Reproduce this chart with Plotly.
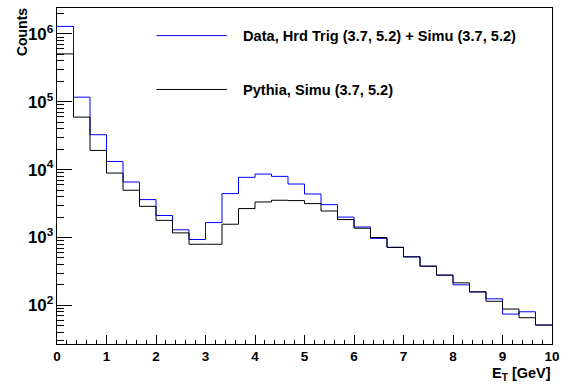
import numpy as np
import plotly.graph_objects as go

# Bin edges: 30 bins from 0 to 10 GeV
n_bins = 30
x_min, x_max = 0.0, 10.0

data_counts = [1.29e6, 1.17e5, 3.27e4, 1.32e4, 6.58e3, 3.62e3, 2.11e3, 1.30e3, 935, 1.66e3,
               4.44e3, 7.71e3, 8.61e3, 7.96e3, 6.14e3, 4.38e3, 3.05e3, 2.00e3, 1.43e3, 971,
               719, 519, 378, 279, 201, 158, 125, 74.5, 80.5, 51.3]
pythia_counts = [5.08e5, 5.94e4, 1.92e4, 8.91e3, 4.97e3, 2.88e3, 1.79e3, 1.17e3, 796, 796,
                 1.57e3, 2.67e3, 3.34e3, 3.54e3, 3.50e3, 3.16e3, 2.46e3, 1.84e3, 1.37e3, 1.00e3,
                 713, 519, 378, 279, 215, 158, 115, 88.3, 65.8, 51.3]

legend_labels = ["Data, Hrd Trig (3.7, 5.2) + Simu (3.7, 5.2)", "Pythia, Simu (3.7, 5.2)"]
colors = ["#0000ff", "#000000"]

edges = np.linspace(x_min, x_max, n_bins + 1)

def step_xy(vals):
    xs = list(edges)
    ys = list(vals) + [vals[-1]]
    return xs, ys

fig = go.Figure()
for vals, col, name in [(data_counts, colors[0], legend_labels[0]),
                        (pythia_counts, colors[1], legend_labels[1])]:
    xs, ys = step_xy(vals)
    fig.add_trace(go.Scatter(x=xs, y=ys, mode="lines", line=dict(shape="hv", color=col, width=1),
                             name=name, showlegend=False))

FONT = "Liberation Sans, Arial, sans-serif"
L, R, T, B = 57, 11, 7, 40
W, H = 567, 384
pw, ph = W - L - R, H - T - B

def px2x(p):
    return (p - L) / pw

def px2y(p):
    return (H - B - p) / ph

shapes = []
annotations = []
for (yy, col, name) in [(34.7, colors[0], legend_labels[0]), (88.7, colors[1], legend_labels[1])]:
    shapes.append(dict(type="line", xref="paper", yref="paper", x0=px2x(157.3), x1=px2x(228.3),
                       y0=px2y(yy), y1=px2y(yy), line=dict(color=col, width=1)))
    annotations.append(dict(text=name, xref="paper", yref="paper", x=px2x(242.5), y=px2y(yy + 0.5),
                            xanchor="left", yanchor="middle", showarrow=False,
                            font=dict(family=FONT, size=14.6, color="black", weight="bold")))

annotations.append(dict(text="Counts", xref="paper", yref="paper", x=px2x(21.3), y=px2y(5.5),
                        xanchor="center", yanchor="top", textangle=-90, showarrow=False,
                        font=dict(family=FONT, size=14, color="black", weight="bold")))
annotations.append(dict(text="<b>E<sub>T</sub> [GeV]</b>", xref="paper", yref="paper", x=px2x(557), y=px2y(374),
                        xanchor="right", yanchor="middle", showarrow=False,
                        font=dict(family=FONT, size=14.5, color="black", weight="bold")))

fig.update_layout(
    width=W, height=H,
    margin=dict(l=L, r=R, t=T, b=B, pad=0),
    paper_bgcolor="white", plot_bgcolor="white",
    font=dict(family=FONT, color="black", weight="bold"),
    shapes=shapes, annotations=annotations,
    showlegend=False,
)
fig.update_xaxes(range=[x_min, x_max], showgrid=False, zeroline=False,
                 showline=True, linecolor="black", linewidth=1, mirror=True,
                 ticks="inside", ticklen=9, tickcolor="black", dtick=1, tick0=0,
                 tickfont=dict(family=FONT, size=13.5, weight="bold"),
                 minor=dict(ticks="inside", ticklen=4.5, tickcolor="black", dtick=0.2, showgrid=False))
fig.update_yaxes(type="log", range=[1.431, 6.382], showgrid=False, zeroline=False,
                 showline=True, linecolor="black", linewidth=1, mirror=True,
                 ticks="inside", ticklen=15, tickcolor="black", dtick=1,
                 exponentformat="power",
                 tickfont=dict(family=FONT, size=13.5, weight="bold"),
                 minor=dict(ticks="inside", ticklen=7, tickcolor="black", dtick="D1", showgrid=False))

fig.write_html("out.html", config={"displayModeBar": False},
               post_script="document.body.style.margin='0';document.body.style.overflow='hidden';")
